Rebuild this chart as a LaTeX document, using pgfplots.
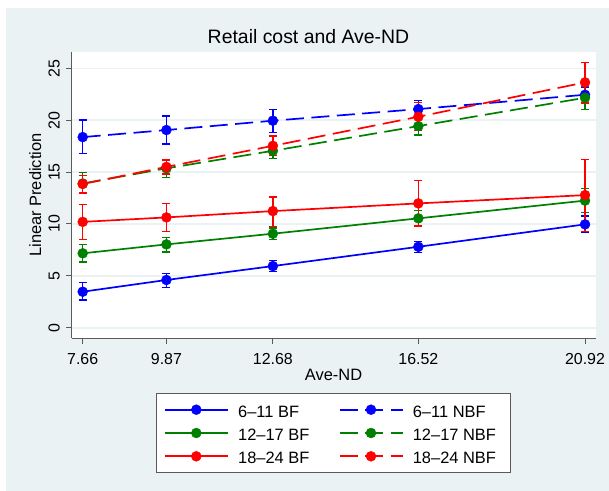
\documentclass[border=0pt]{standalone}
\usepackage{fontspec}
\setmainfont{Liberation Sans}
\usepackage{pgfplots}
\pgfplotsset{compat=1.18}
\definecolor{bg}{RGB}{234,242,243}
\definecolor{sgreen}{RGB}{0,128,0}
\definecolor{sblue}{RGB}{0,0,255}
\definecolor{sred}{RGB}{255,0,0}
\definecolor{axgray}{RGB}{90,90,90}
\pgfplotsset{
 bfline/.style={solid, line width=1.7bp, mark=*, mark size=5bp, mark options={solid, line width=0.4bp}},
 nbfline/.style={dash pattern=on 18bp off 7.5bp, line width=1.7bp, mark=*, mark size=5bp, mark options={solid, line width=0.4bp}},
 ebar/.style={forget plot, draw=none, mark=none,
   error bars/.cd, y dir=both, y explicit,
   error bar style={solid, line width=1.4bp, draw=#1},
   error mark options={rotate=90, mark size=4bp, line width=1.4bp, draw=#1, solid}},
}
\begin{document}
\begin{tikzpicture}[x=1bp,y=1bp]
\fill[white] (0,0) rectangle (609,-491);
\fill[bg] (6,-8) rectangle (609,-491);
\begin{axis}[
  at={(71.8bp,-338.3bp)}, anchor=south west,
  scale only axis, width=524.2bp, height=286.6bp,
  xmin=7.372, xmax=21.21, ymin=-1.02, ymax=26.6,
  axis background/.style={fill=white},
  axis x line*=bottom, axis y line*=left,
  axis line style={-, draw=axgray, line width=1bp},
  tick align=outside, major tick length=5.5bp,
  tick style={draw=axgray, line width=1bp},
  xtick={7.66,9.87,12.68,16.52,20.92},
  xticklabels={7.66,9.87,12.68,16.52,20.92},
  ytick={0,5,10,15,20,25}, yticklabels={0,5,10,15,20,25},
  ymajorgrids, grid style={draw=bg, line width=1.6bp},
  tick label style={font=\fontsize{16}{19}\selectfont},
  yticklabel style={rotate=90, anchor=south, inner sep=0pt, inner ysep=6.2bp},
  xticklabel style={anchor=north, inner sep=0pt, inner ysep=9.5bp},
  legend columns=2,
  legend cell align=left,
  legend style={at={(0.5,-0.1919)}, anchor=north, draw=axgray, line width=1bp, fill=white,
    inner xsep=7bp, inner ysep=8.4bp, column sep=9.5bp, row sep=8.3bp,
    font=\fontsize{16.5}{19}\selectfont,
    nodes={inner sep=0pt, text height=15bp, text depth=0pt}},
  legend image code/.code={\draw[mark repeat=2, mark phase=2, #1, line width=1.7bp] plot coordinates {(0bp,0bp) (31.5bp,0bp) (63bp,0bp)};},
]
% confidence intervals
\addplot[ebar=sblue] coordinates {
(7.66,3.47) += (0,0.86) -= (0,0.80)
(9.87,4.6) += (0,0.64) -= (0,0.70)
(12.68,5.94) += (0,0.51) -= (0,0.54)
(16.52,7.8) += (0,0.50) -= (0,0.54)
(20.92,9.96) += (0,0.80) -= (0,0.81)};
\addplot[ebar=sblue] coordinates {
(7.66,18.37) += (0,1.63) -= (0,1.57)
(9.87,19.05) += (0,1.35) -= (0,1.35)
(12.68,19.95) += (0,1.09) -= (0,1.15)
(16.52,21.07) += (0,0.80) -= (0,0.77)
(20.92,22.45) += (0,0.75) -= (0,0.75)};
\addplot[ebar=sgreen] coordinates {
(7.66,7.17) += (0,0.86) -= (0,0.84)
(9.87,8.03) += (0,0.64) -= (0,0.74)
(12.68,9.06) += (0,0.54) -= (0,0.58)
(16.52,10.54) += (0,0.76) -= (0,0.74)
(20.92,12.25) += (0,1.15) -= (0,1.17)};
\addplot[ebar=sgreen] coordinates {
(7.66,13.9) += (0,1.03) -= (0,0.95)
(9.87,15.36) += (0,0.74) -= (0,0.91)
(12.68,17.05) += (0,0.65) -= (0,0.75)
(16.52,19.43) += (0,0.77) -= (0,0.87)
(20.92,22.16) += (0,1.1) -= (0,1.12)};
\addplot[ebar=sred] coordinates {
(7.66,10.2) += (0,1.7) -= (0,1.7)
(9.87,10.63) += (0,1.37) -= (0,1.33)
(12.68,11.24) += (0,1.36) -= (0,1.51)
(16.52,11.98) += (0,2.18) -= (0,2.18)
(20.92,12.78) += (0,3.42) -= (0,3.53)};
\addplot[ebar=sred] coordinates {
(7.66,13.85) += (0,0.8) -= (0,0.85)
(9.87,15.5) += (0,0.65) -= (0,0.7)
(12.68,17.53) += (0,0.94) -= (0,0.93)
(16.52,20.33) += (0,1.4) -= (0,1.35)
(20.92,23.64) += (0,1.93) -= (0,1.99)};
% lines
\addplot[bfline, color=sblue] coordinates {(7.66,3.47) (9.87,4.6) (12.68,5.94) (16.52,7.8) (20.92,9.96)};
\addlegendentry{6–11 BF}
\addplot[nbfline, color=sblue] coordinates {(7.66,18.37) (9.87,19.05) (12.68,19.95) (16.52,21.07) (20.92,22.45)};
\addlegendentry{6–11 NBF}
\addplot[bfline, color=sgreen] coordinates {(7.66,7.17) (9.87,8.03) (12.68,9.06) (16.52,10.54) (20.92,12.25)};
\addlegendentry{\makebox[91bp][l]{12–17 BF}}
\addplot[nbfline, color=sgreen] coordinates {(7.66,13.9) (9.87,15.36) (12.68,17.05) (16.52,19.43) (20.92,22.16)};
\addlegendentry{\makebox[91bp][l]{12–17 NBF}}
\addplot[bfline, color=sred] coordinates {(7.66,10.2) (9.87,10.63) (12.68,11.24) (16.52,11.98) (20.92,12.78)};
\addlegendentry{18–24 BF}
\addplot[nbfline, color=sred] coordinates {(7.66,13.85) (9.87,15.5) (12.68,17.53) (16.52,20.33) (20.92,23.64)};
\addlegendentry{18–24 NBF}
\end{axis}
\node[anchor=base, font=\fontsize{19.5}{22}\selectfont] at (308.5,-43.3) {Retail cost and Ave-ND};
\node[anchor=base, font=\fontsize{16.5}{19}\selectfont] at (333.5,-380) {Ave-ND};
\node[rotate=90, anchor=base, font=\fontsize{16.5}{19}\selectfont] at (41,-195) {Linear Prediction};
\end{tikzpicture}
\end{document}
